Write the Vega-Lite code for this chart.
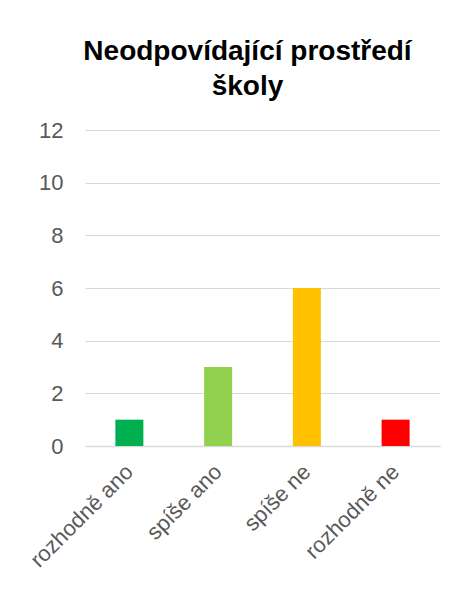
{
  "$schema": "https://vega.github.io/schema/vega-lite/v6.json",
  "width": 355,
  "height": 316,
  "autosize": "none",
  "padding": {"left": 85, "top": 130, "right": 27, "bottom": 150},
  "background": "white",
  "title": {
    "text": ["Neodpovídající prostředí", "školy"],
    "font": "Liberation Sans",
    "fontSize": 28,
    "fontWeight": "bold",
    "color": "#000000",
    "lineHeight": 35,
    "anchor": "middle",
    "dx": -15,
    "offset": 18
  },
  "data": {
    "values": [
      {"kategorie": "rozhodně ano", "pocet": 1, "barva": "#00B050"},
      {"kategorie": "spíše ano", "pocet": 3, "barva": "#92D050"},
      {"kategorie": "spíše ne", "pocet": 6, "barva": "#FFC000"},
      {"kategorie": "rozhodně ne", "pocet": 1, "barva": "#FF0000"}
    ]
  },
  "mark": {"type": "bar", "width": 28},
  "encoding": {
    "x": {
      "field": "kategorie",
      "type": "nominal",
      "sort": null,
      "scale": {"paddingInner": 0, "paddingOuter": 0},
      "axis": {
        "title": null,
        "labelAngle": -45,
        "labelAlign": "right",
        "labelBaseline": "middle",
        "labelFont": "Liberation Sans",
        "labelFontSize": 22,
        "labelColor": "#595959",
        "labelPadding": 22,
        "ticks": false,
        "domainColor": "#D9D9D9",
        "domainWidth": 1.5,
        "grid": false
      }
    },
    "y": {
      "field": "pocet",
      "type": "quantitative",
      "scale": {"domain": [0, 12]},
      "axis": {
        "title": null,
        "values": [0, 2, 4, 6, 8, 10, 12],
        "labelFont": "Liberation Sans",
        "labelFontSize": 22,
        "labelColor": "#595959",
        "labelPadding": 22,
        "ticks": false,
        "domain": false,
        "gridColor": "#D9D9D9",
        "gridWidth": 1
      }
    },
    "color": {"field": "barva", "type": "nominal", "scale": null}
  },
  "config": {"view": {"stroke": null}}
}
